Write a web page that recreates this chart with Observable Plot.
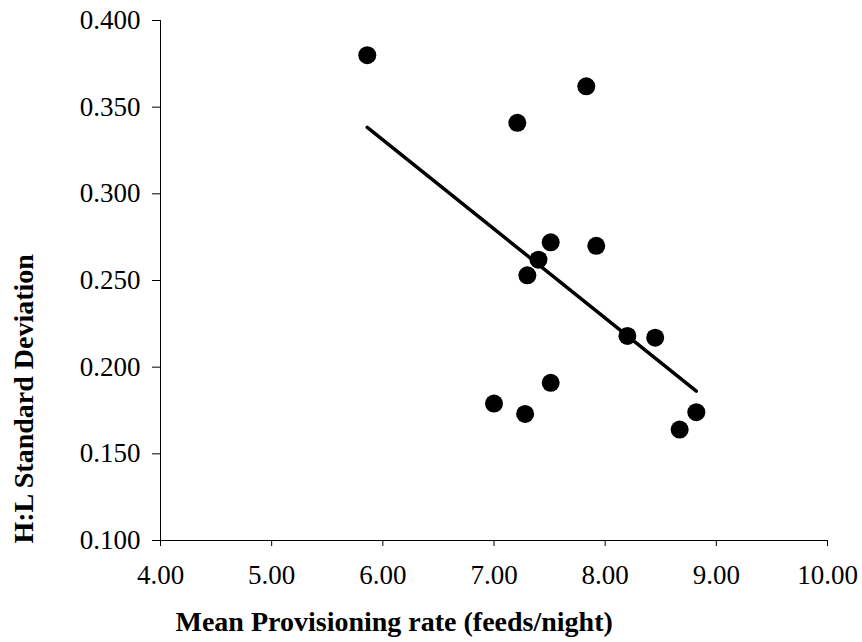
<!DOCTYPE html>
<html>
<head>
<meta charset="utf-8">
<script src="https://cdn.jsdelivr.net/npm/d3@7"></script>
<script src="https://cdn.jsdelivr.net/npm/@observablehq/plot@0.6"></script>
<style>
  html, body { margin: 0; padding: 0; background: #fff; }
  svg { font-family: "Liberation Serif", "Times New Roman", serif; }
</style>
</head>
<body>
<div id="chart"></div>
<script>
// Mean provisioning rate (feeds/night)
const rate = [5.86, 7.21, 7.83, 7.51, 7.92, 7.40, 7.30, 8.20, 8.45, 7.51, 7.00, 7.28, 8.82, 8.67];
// H:L standard deviation
const hlSD = [0.380, 0.341, 0.362, 0.272, 0.270, 0.262, 0.253, 0.218, 0.217, 0.191, 0.179, 0.173, 0.174, 0.164];
const xTicks = [4, 5, 6, 7, 8, 9, 10];
const yTicks = [0.10, 0.15, 0.20, 0.25, 0.30, 0.35, 0.40];
const xTitle = "Mean Provisioning rate (feeds/night)";
const yTitle = "H:L Standard Deviation";

const data = rate.map((r, i) => ({rate: r, sd: hlSD[i]}));

const chart = Plot.plot({
  width: 862,
  height: 642,
  marginLeft: 160,
  marginRight: 35,
  marginTop: 20,
  marginBottom: 102,
  style: {background: "#fff", color: "#000"},
  x: {domain: [4, 10]},
  y: {domain: [0.1, 0.4]},
  marks: [
    Plot.ruleY([0.1], {stroke: "#000", strokeWidth: 1}),
    Plot.ruleX([4], {stroke: "#000", strokeWidth: 1}),
    Plot.axisX({
      ticks: xTicks, tickFormat: d3.format(".2f"), tickSize: 6, tickPadding: 18,
      fontSize: 27, stroke: "#000", fill: "#000", label: null
    }),
    Plot.axisY({
      ticks: yTicks, tickFormat: d3.format(".3f"), tickSize: 8, tickPadding: 12,
      fontSize: 27, stroke: "#000", fill: "#000", label: null
    }),
    Plot.text([xTitle], {
      text: d => d, frameAnchor: "bottom-left", textAnchor: "start", lineAnchor: "bottom",
      dx: 15, dy: 90, fontSize: 28, fontWeight: "bold", fill: "#000"
    }),
    Plot.text([yTitle], {
      text: d => d, frameAnchor: "bottom-left", textAnchor: "start", lineAnchor: "middle",
      rotate: -90, dx: -136, dy: 3, fontSize: 28, fontWeight: "bold", fill: "#000"
    }),
    Plot.linearRegressionY(data, {x: "rate", y: "sd", stroke: "#000", strokeWidth: 3.5, ci: 0}),
    Plot.dot(data, {x: "rate", y: "sd", r: 9, fill: "#000", stroke: "none"})
  ]
});
document.getElementById("chart").append(chart);
</script>
</body>
</html>
